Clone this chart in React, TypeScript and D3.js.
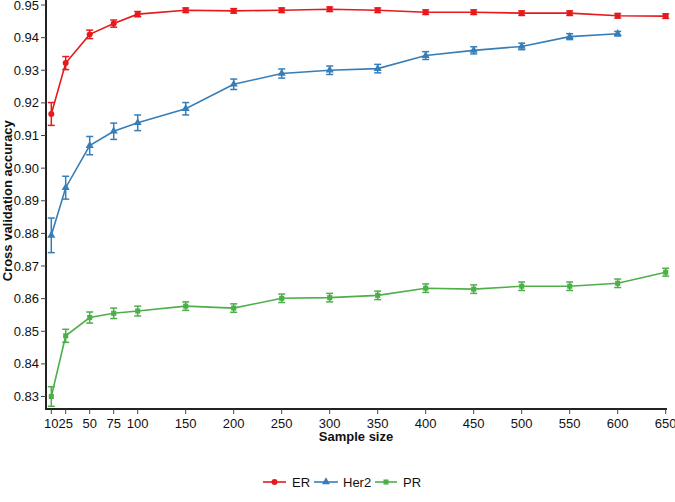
import React from "react";
import * as d3 from "d3";

const sampleSizes = [10, 25, 50, 75, 100, 150, 200, 250, 300, 350, 400, 450, 500, 550, 600, 650];
const xTicks = [10, 25, 50, 75, 100, 150, 200, 250, 300, 350, 400, 450, 500, 550, 600, 650];
const yTicks = [0.83, 0.84, 0.85, 0.86, 0.87, 0.88, 0.89, 0.9, 0.91, 0.92, 0.93, 0.94, 0.95];

const erMean = [0.9166, 0.9322, 0.9410, 0.9443, 0.9472, 0.9484, 0.9482, 0.9484, 0.9487, 0.9484, 0.9478, 0.9478, 0.9475, 0.9475, 0.9467, 0.9466];
const erErr = [0.0035, 0.0020, 0.0013, 0.0011, 0.0008, 0.0007, 0.0007, 0.0007, 0.0007, 0.0007, 0.0007, 0.0007, 0.0007, 0.0007, 0.0007, 0.0007];

const her2Sizes = [10, 25, 50, 75, 100, 150, 200, 250, 300, 350, 400, 450, 500, 550, 600];
const her2Mean = [0.8794, 0.8940, 0.9069, 0.9113, 0.9139, 0.9182, 0.9257, 0.9290, 0.9300, 0.9305, 0.9345, 0.9361, 0.9373, 0.9403, 0.9412];
const her2Err = [0.0053, 0.0035, 0.0028, 0.0025, 0.0024, 0.0019, 0.0016, 0.0014, 0.0013, 0.0013, 0.0012, 0.0011, 0.0010, 0.0009, 0.0007];

const prMean = [0.8300, 0.8486, 0.8542, 0.8555, 0.8562, 0.8577, 0.8571, 0.8601, 0.8603, 0.8610, 0.8632, 0.8629, 0.8638, 0.8638, 0.8647, 0.8681];
const prErr = [0.0030, 0.0020, 0.0017, 0.0016, 0.0015, 0.0013, 0.0013, 0.0013, 0.0013, 0.0013, 0.0013, 0.0013, 0.0013, 0.0013, 0.0013, 0.0012];

const seriesNames = ["ER", "Her2", "PR"];
const seriesColors = ["#e41a1c", "#377eb8", "#4daf4a"];

const FONT = "'Liberation Sans', Arial, Helvetica, sans-serif";

export default function App() {
  const W = 675, H = 502;
  const x = d3.scaleLinear().domain([10, 650]).range([51.3, 665.7]);
  const y = d3.scaleLinear().domain([0.83, 0.95]).range([396.5, 5]);
  const axisLeft = 46;
  const axisBottom = 409;

  const series = [
    { name: seriesNames[0], color: seriesColors[0], xs: sampleSizes, m: erMean, e: erErr, shape: "circle" },
    { name: seriesNames[1], color: seriesColors[1], xs: her2Sizes, m: her2Mean, e: her2Err, shape: "triangle" },
    { name: seriesNames[2], color: seriesColors[2], xs: sampleSizes, m: prMean, e: prErr, shape: "square" },
  ];

  const line = d3.line<[number, number]>().x((d) => x(d[0])).y((d) => y(d[1]));

  const symbolPath = (shape: string) => {
    const t = shape === "circle" ? d3.symbolCircle : shape === "triangle" ? d3.symbolTriangle : d3.symbolSquare;
    return d3.symbol().type(t).size(shape === "square" ? 26 : 28)() as string;
  };

  const legendItems = [
    { x1: 263, x2: 286, tx: 292 },
    { x1: 314, x2: 338, tx: 343 },
    { x1: 375, x2: 397, tx: 403 },
  ];

  return (
    <svg width={W} height={H} style={{ position: "absolute", left: 0, top: 0 }} fontFamily={FONT}>
      <rect x={0} y={0} width={W} height={H} fill="#fff" />
      {/* Y axis */}
      <line x1={axisLeft} x2={axisLeft} y1={0} y2={axisBottom + 1} stroke="#222" strokeWidth={2} />
      {yTicks.map((t) => (
        <g key={t}>
          <line x1={axisLeft - 5} x2={axisLeft} y1={y(t)} y2={y(t)} stroke="#444" strokeWidth={1} />
          <text x={axisLeft - 7} y={y(t)} dy="0.35em" textAnchor="end" fontSize={13} fill="#111">
            {d3.format(".2f")(t)}
          </text>
        </g>
      ))}
      <text
        transform={`translate(12, ${(5 + 396.5) / 2}) rotate(-90)`}
        textAnchor="middle"
        fontSize={13}
        fontWeight="bold"
        fill="#111"
      >
        Cross validation accuracy
      </text>
      {/* X axis */}
      <line x1={axisLeft - 1} x2={667} y1={axisBottom} y2={axisBottom} stroke="#222" strokeWidth={2} />
      {xTicks.map((t) => (
        <g key={t}>
          <line x1={x(t)} x2={x(t)} y1={axisBottom} y2={axisBottom + 5} stroke="#444" strokeWidth={1} />
          <text x={x(t)} y={axisBottom + 19} textAnchor="middle" fontSize={13} fill="#111">
            {t}
          </text>
        </g>
      ))}
      <text x={356} y={440.5} textAnchor="middle" fontSize={13} fontWeight="bold" fill="#111">
        Sample size
      </text>
      {/* Series */}
      {series.map((s) => {
        const pts: [number, number][] = s.xs.map((v, i) => [v, s.m[i]]);
        const sym = symbolPath(s.shape);
        return (
          <g key={s.name}>
            <path d={line(pts) as string} fill="none" stroke={s.color} strokeWidth={1.6} />
            {pts.map((p, i) => {
              const cx = x(p[0]);
              const y1 = y(p[1] - s.e[i]);
              const y2 = y(p[1] + s.e[i]);
              return (
                <g key={i} stroke={s.color} strokeWidth={1.5}>
                  <line x1={cx} x2={cx} y1={y1} y2={y2} />
                  <line x1={cx - 3.5} x2={cx + 3.5} y1={y1} y2={y1} />
                  <line x1={cx - 3.5} x2={cx + 3.5} y1={y2} y2={y2} />
                  <path d={sym} transform={`translate(${cx},${y(p[1])})`} fill={s.color} stroke="none" />
                </g>
              );
            })}
          </g>
        );
      })}
      {/* Legend */}
      {series.map((s, i) => {
        const li = legendItems[i];
        const ly = 482;
        return (
          <g key={s.name}>
            <line x1={li.x1} x2={li.x2} y1={ly} y2={ly} stroke={s.color} strokeWidth={1.6} />
            <path d={symbolPath(s.shape)} transform={`translate(${(li.x1 + li.x2) / 2},${ly})`} fill={s.color} />
            <text x={li.tx} y={ly} dy="0.35em" fontSize={13} fill="#111">
              {s.name}
            </text>
          </g>
        );
      })}
    </svg>
  );
}
